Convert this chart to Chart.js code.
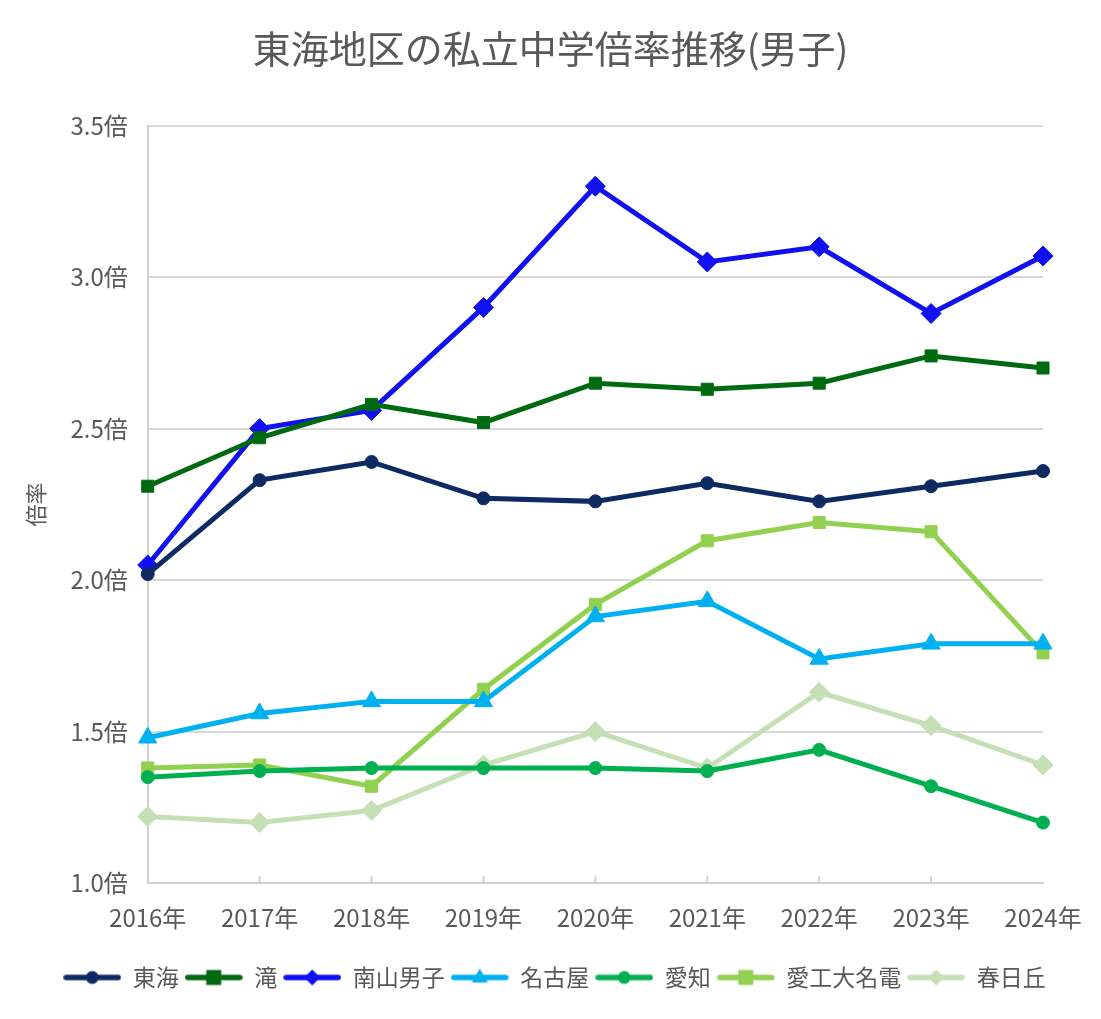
<!DOCTYPE html>
<html>
<head>
<meta charset="utf-8">
<script src="https://cdn.jsdelivr.net/npm/chart.js@4"></script>
<style>
  html, body { margin: 0; padding: 0; background: #fff; }
  #wrap { width: 1101px; height: 1019px; }
</style>
</head>
<body>
<div id="wrap"><canvas id="chart"></canvas></div>
<script>
'use strict';

var years = ['2016年', '2017年', '2018年', '2019年', '2020年', '2021年', '2022年', '2023年', '2024年'];
var tokai    = [2.02, 2.33, 2.39, 2.27, 2.26, 2.32, 2.26, 2.31, 2.36];
var taki     = [2.31, 2.47, 2.58, 2.52, 2.65, 2.63, 2.65, 2.74, 2.70];
var nanzan   = [2.05, 2.50, 2.56, 2.90, 3.30, 3.05, 3.10, 2.88, 3.07];
var nagoya   = [1.48, 1.56, 1.60, 1.60, 1.88, 1.93, 1.74, 1.79, 1.79];
var aichi    = [1.35, 1.37, 1.38, 1.38, 1.38, 1.37, 1.44, 1.32, 1.20];
var meiden   = [1.38, 1.39, 1.32, 1.64, 1.92, 2.13, 2.19, 2.16, 1.76];
var kasugaoka = [1.22, 1.20, 1.24, 1.39, 1.50, 1.38, 1.63, 1.52, 1.39];

var FONT = '"Noto Sans CJK JP", "Noto Sans", sans-serif';
var GREY = '#595959';

function series(label, data, color, style, radius) {
    return {
        label: label,
        data: data,
        borderColor: color,
        backgroundColor: color,
        borderWidth: 5,
        pointStyle: style,
        pointRadius: radius,
        pointHoverRadius: radius,
        pointBorderWidth: 1,
        tension: 0
    };
}

var datasets = [
    series('東海', tokai, '#0d2a63', 'circle', 6.5),
    series('滝', taki, '#006a10', 'rect', 8.5),
    series('南山男子', nanzan, '#1010f0', 'rectRot', 10),
    series('名古屋', nagoya, '#00b0f0', 'triangle', 10.5),
    series('愛知', aichi, '#00b050', 'circle', 6.5),
    series('愛工大名電', meiden, '#92d050', 'rect', 8.5),
    series('春日丘', kasugaoka, '#c5e0b4', 'rectRot', 10)
];

// legend icon: a short line with the marker in the middle
function legendIcon(ds) {
    var c = document.createElement('canvas');
    c.width = 58; c.height = 24;
    var g = c.getContext('2d');
    g.strokeStyle = ds.borderColor;
    g.fillStyle = ds.borderColor;
    g.lineWidth = 5.5;
    g.lineCap = 'round';
    g.beginPath(); g.moveTo(3, 12); g.lineTo(55, 12); g.stroke();
    g.beginPath();
    if (ds.pointStyle === 'circle') {
        g.arc(29, 12, 6.5, 0, Math.PI * 2);
    } else if (ds.pointStyle === 'rect') {
        g.rect(21.5, 4.5, 15, 15);
    } else if (ds.pointStyle === 'rectRot') {
        g.moveTo(29, 4); g.lineTo(37, 12); g.lineTo(29, 20); g.lineTo(21, 12);
    } else {
        g.moveTo(29, 3); g.lineTo(37, 17); g.lineTo(21, 17);
    }
    g.closePath(); g.fill();
    return c;
}

// nudge title and legend to the right, as in the original
var blockShift = {
    id: 'blockShift',
    afterLayout: function (ch) {
        ch.legend.left += 24;
        ch.legend.right += 24;
        ch.titleBlock.left += 20;
        ch.titleBlock.right += 20;
    },
    // little tick marks pointing up from the x axis
    afterDatasetsDraw: function (ch) {
        var x = ch.scales.x, g = ch.ctx, b = ch.chartArea.bottom;
        g.save();
        g.strokeStyle = '#d0d0d0';
        g.lineWidth = 2;
        for (var i = 1; i < years.length - 1; i++) {
            var px = x.getPixelForTick(i);
            g.beginPath(); g.moveTo(px, b); g.lineTo(px, b - 7); g.stroke();
        }
        g.restore();
    }
};

var ctx = document.getElementById('chart').getContext('2d');
var chart = new Chart(ctx, {
    type: 'line',
    data: { labels: years, datasets: datasets },
    plugins: [blockShift],
    options: {
        responsive: true,
        maintainAspectRatio: false,
        animation: false,
        layout: { padding: { left: 18, right: 58, top: 10, bottom: 20 } },
        plugins: {
            title: {
                display: true,
                text: '東海地区の私立中学倍率推移(男子)',
                color: GREY,
                font: { family: FONT, size: 38, weight: 'normal' },
                padding: { top: 16, bottom: 54 }
            },
            legend: {
                position: 'bottom',
                labels: {
                    usePointStyle: true,
                    pointStyleWidth: 58,
                    padding: 6,
                    color: GREY,
                    font: { family: FONT, size: 23 },
                    generateLabels: function (ch) {
                        return ch.data.datasets.map(function (ds, i) {
                            return {
                                text: ds.label,
                                pointStyle: legendIcon(ds),
                                fillStyle: ds.borderColor,
                                strokeStyle: ds.borderColor,
                                lineWidth: 0,
                                fontColor: GREY,
                                datasetIndex: i,
                                hidden: false
                            };
                        });
                    }
                }
            },
            tooltip: { enabled: false }
        },
        scales: {
            x: {
                offset: false,
                grid: { display: false },
                border: { color: '#d0d0d0', width: 2 },
                ticks: { color: GREY, font: { family: FONT, size: 24 }, padding: 12, maxRotation: 0 },
                afterFit: function (s) { s.height += 16; }
            },
            y: {
                min: 1.0,
                max: 3.5,
                grid: { color: '#d9d9d9', lineWidth: 2, drawTicks: false },
                border: { color: '#d0d0d0', width: 2 },
                ticks: {
                    stepSize: 0.5,
                    color: GREY,
                    padding: 20,
                    font: { family: FONT, size: 24 },
                    callback: function (v) { return v.toFixed(1) + '倍'; }
                },
                title: {
                    display: true,
                    text: '倍率',
                    color: GREY,
                    font: { family: FONT, size: 22 },
                    padding: { bottom: 2 }
                }
            }
        }
    }
});
</script>
</body>
</html>
